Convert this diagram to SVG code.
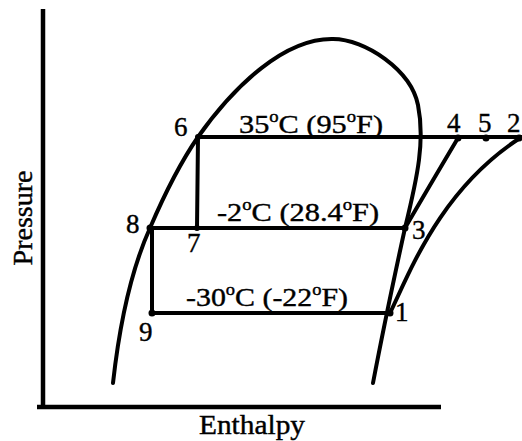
<svg xmlns="http://www.w3.org/2000/svg" width="522" height="441" viewBox="0 0 522 441">
<style>
.ln{fill:none;stroke:#000;stroke-width:4;stroke-linecap:round;stroke-linejoin:round}
.ax{fill:none;stroke:#000;stroke-width:4.5}
.dot{fill:#000}
text{font-family:"Liberation Serif","Times New Roman",serif;fill:#000;stroke:#000;stroke-width:0.4}
.lbl{font-size:27px}
.tmp{font-size:26px}
.axt{font-size:28px}
</style>
<g id="axes">
<line class="ax" x1="43" y1="9" x2="43" y2="407"/>
<line class="ax" x1="37" y1="407" x2="441" y2="407"/>
<text class="axt" x="199" y="434" textLength="106" lengthAdjust="spacingAndGlyphs">Enthalpy</text>
<text class="axt" transform="translate(32,218) rotate(-90)" text-anchor="middle">Pressure</text>
</g>
<g id="connectors">
<path id="dome" class="ln" d="M113,383 C120,320 132,268 150,228 C162,200 178,166 198,137 C235,85 285,38 333,39 C365,39 411,70 418,105 C425,140 418,175 405,228 C398,260 385,320 373,383"/>
<line class="ln" x1="198" y1="137" x2="524" y2="137"/>
<line class="ln" x1="198" y1="137" x2="197" y2="228"/>
<line class="ln" x1="150" y1="228" x2="405" y2="228"/>
<line class="ln" x1="152" y1="228" x2="152" y2="313"/>
<line class="ln" x1="152" y1="313" x2="390" y2="313"/>
<path class="ln" d="M405,228 Q430,185 458,138"/>
<path class="ln" d="M390,313 C410,272 440,190 520,138"/>
</g>
<g id="p1"><circle class="dot" cx="390" cy="313" r="3.5"/><text class="lbl" x="395" y="321">1</text></g>
<g id="p2"><circle class="dot" cx="519" cy="138" r="3.5"/><text class="lbl" x="507" y="132">2</text></g>
<g id="p3"><circle class="dot" cx="405" cy="228" r="3.5"/><text class="lbl" x="412" y="239">3</text></g>
<g id="p4"><circle class="dot" cx="458" cy="138" r="3.5"/><text class="lbl" x="447" y="132">4</text></g>
<g id="p5"><circle class="dot" cx="486" cy="138" r="3.5"/><text class="lbl" x="478" y="132">5</text></g>
<g id="p6"><circle class="dot" cx="198" cy="137" r="3"/><text class="lbl" x="174" y="136">6</text></g>
<g id="p7"><circle class="dot" cx="197" cy="228" r="3"/><text class="lbl" x="187" y="252">7</text></g>
<g id="p8"><circle class="dot" cx="150" cy="228" r="3.5"/><text class="lbl" x="126" y="233">8</text></g>
<g id="p9"><circle class="dot" cx="152" cy="313" r="3.5"/><text class="lbl" x="139" y="341">9</text></g>
<g id="t35"><text class="tmp" x="239" y="133" textLength="144" lengthAdjust="spacingAndGlyphs">35<tspan dy="-11" font-size="16">o</tspan><tspan dy="11">C (95</tspan><tspan dy="-11" font-size="16">o</tspan><tspan dy="11">F)</tspan></text></g>
<g id="tm2"><text class="tmp" x="217" y="221" textLength="162" lengthAdjust="spacingAndGlyphs">-2<tspan dy="-11" font-size="16">o</tspan><tspan dy="11">C (28.4</tspan><tspan dy="-11" font-size="16">o</tspan><tspan dy="11">F)</tspan></text></g>
<g id="tm30"><text class="tmp" x="186" y="306" textLength="162" lengthAdjust="spacingAndGlyphs">-30<tspan dy="-11" font-size="16">o</tspan><tspan dy="11">C (-22</tspan><tspan dy="-11" font-size="16">o</tspan><tspan dy="11">F)</tspan></text></g>
</svg>
